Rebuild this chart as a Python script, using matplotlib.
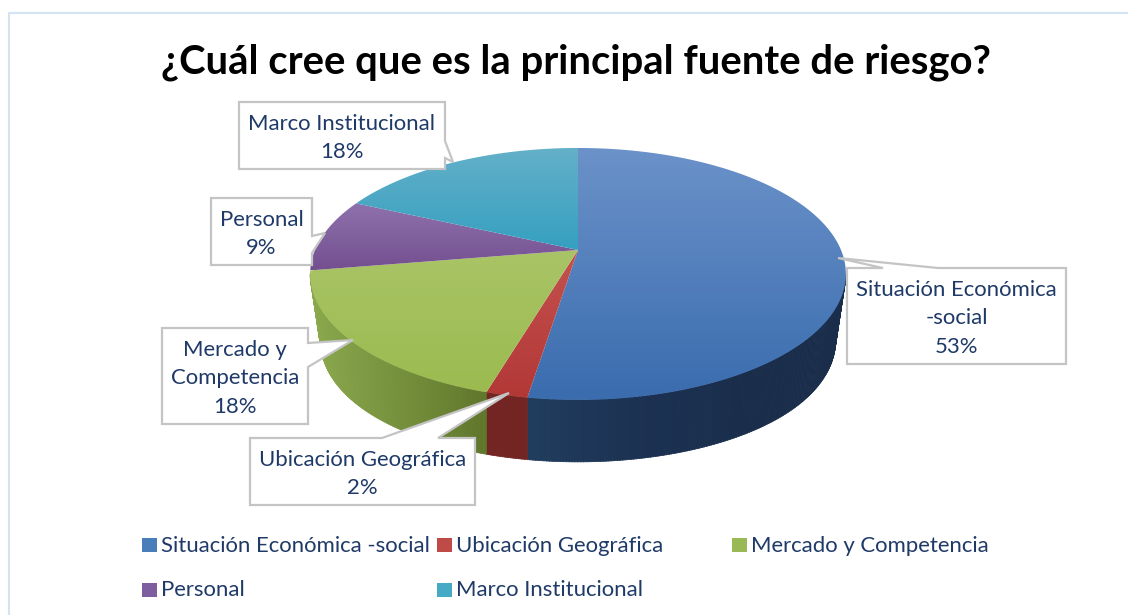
import numpy as np
import matplotlib
matplotlib.use('Agg')
from matplotlib import pyplot as plt
from matplotlib.colors import LinearSegmentedColormap
from matplotlib.patches import Polygon, Rectangle

plt.rcParams['font.family'] = ['Lato', 'DejaVu Sans']

title = '¿Cuál cree que es la principal fuente de riesgo?'
categories = ['Situación Económica -social', 'Ubicación Geográfica', 'Mercado y Competencia',
              'Personal', 'Marco Institucional']
values = [52.5, 2.1, 17.8, 9.4, 18.2]
percent_labels = ['53%', '2%', '18%', '9%', '18%']
callout_names = ['Situación Económica\n-social', 'Ubicación Geográfica', 'Mercado y\nCompetencia',
                 'Personal', 'Marco Institucional']

# top colours: light end, dark end of the vertical gradient
top_light = ['#6b92c9', '#c4524f', '#a9c466', '#8f72ad', '#64b0c9']
top_dark = ['#3a6cae', '#b23836', '#9bbb50', '#744f90', '#35a0c0']
# side colours, left to right along each slice
side_stops = [['#213d5e', '#1c3253', '#1a2e4c', '#1a2e4c'],
              ['#722522', '#722522'],
              ['#8aa84c', '#76913d', '#60772c'],
              ['#744f90', '#744f90'],
              ['#35a0c0', '#35a0c0']]
legend_colors = ['#4a7ebb', '#be4b48', '#98b954', '#7d5fa0', '#46aac5']

text_color = '#1f3a68'
box_color = '#c4c4c4'

fig = plt.figure(figsize=(11.28, 6.15), dpi=100)
ax = fig.add_axes([0, 0, 1, 1])

# pie geometry in pixels, with a small perspective so the apex sits above the ellipse centre
cx, cy = 578, 250
c, b, k = 263, -73.9, 0.19
depth = 62


def rim(t, drop=0, narrow=0.0):
    x = np.sin(t)
    y = np.cos(t)
    # the lower rim pulls in only near the sides, so seams in front stay vertical
    return cx + (1 - narrow * np.abs(x) ** 3) * c * x / (1 + k * y), (cy + b * y) / (1 + k * y) + drop


edges = np.radians(np.concatenate([[0], np.cumsum(values)]) * 3.6)

# side wall first, only the part of the rim that faces the viewer
for i in range(len(values)):
    rim_x = rim(np.linspace(edges[i], edges[i + 1], 200))[0]
    lo, hi = rim_x.min(), rim_x.max()
    cmap = LinearSegmentedColormap.from_list('s', side_stops[i])
    for t0 in np.arange(edges[i], edges[i + 1], np.radians(0.5)):
        t1 = min(t0 + np.radians(0.6), edges[i + 1])
        if np.cos((t0 + t1) / 2) > -k:
            continue
        x0, y0 = rim(t0)
        x1, y1 = rim(t1)
        x2, y2 = rim(t1, depth, 0.04)
        x3, y3 = rim(t0, depth, 0.04)
        col = cmap((x0 - lo) / max(hi - lo, 1))
        ax.add_patch(Polygon([(x0, y0), (x1, y1), (x2, y2), (x3, y3)], closed=True,
                             facecolor=col, edgecolor=col, linewidth=0.5, zorder=2))

# top surface, one clipped gradient per slice
for i in range(len(values)):
    ts = np.linspace(edges[i], edges[i + 1], 200)
    xs, ys = rim(ts)
    pts = [(cx, cy)] + list(zip(xs, ys))
    arr = np.array(pts)
    cmap = LinearSegmentedColormap.from_list('t', [top_light[i], top_dark[i]])
    grad = np.linspace(0, 1, 256).reshape(-1, 1)
    ext = (arr[:, 0].min(), arr[:, 0].max(), arr[:, 1].max(), arr[:, 1].min())
    im = ax.imshow(grad, cmap=cmap, extent=ext, aspect='auto', zorder=3, origin='upper')
    patch = Polygon(pts, closed=True, facecolor='none', edgecolor='none', zorder=3)
    ax.add_patch(patch)
    im.set_clip_path(patch)

ax.set_xlim(0, 1128)
ax.set_ylim(615, 0)
ax.axis('off')

# outer chart frame
ax.plot([9, 9, 1128], [615, 13, 13], color='#d5e4f5', lw=1.5, zorder=1)

ax.text(576, 62, title, ha='center', va='center', fontsize=28.8, fontweight='bold', color='black')

# callouts: box outline with its pointer, in the same order as categories
callout_outlines = [
    [(847, 268), (883, 268), (838, 258), (938, 268), (1066, 268), (1066, 364), (847, 364)],
    [(250, 438), (382, 438), (509, 393), (438, 438), (475, 438), (475, 505), (250, 505)],
    [(162, 328), (308, 328), (308, 343), (353, 340), (308, 367), (308, 424), (162, 424)],
    [(211, 198), (312, 198), (312, 236), (325, 233), (312, 253), (312, 265), (211, 265)],
    [(239, 102), (445, 102), (445, 141), (453, 162), (445, 158), (445, 169), (239, 169)],
]
for outline, name, pct in zip(callout_outlines, callout_names, percent_labels):
    ax.add_patch(Polygon(outline, closed=True, facecolor='white', edgecolor=box_color,
                         linewidth=1.6, zorder=5))
    x_mid = (outline[-1][0] + outline[-2][0]) / 2
    y_mid = (outline[0][1] + outline[-1][1]) / 2
    ax.text(x_mid, y_mid + 2.5, name + '\n' + pct, ha='center', va='center', fontsize=15.9,
            color=text_color, linespacing=1.55, zorder=6)

# legend
legend_pos = [(142, 545), (437, 545), (732, 545), (142, 590), (437, 590)]
for (lx, ly), name, col in zip(legend_pos, categories, legend_colors):
    ax.add_patch(Rectangle((lx, ly - 7), 15, 14, facecolor=col, edgecolor='none', zorder=4))
    ax.text(lx + 19, ly + 0.5, name, ha='left', va='center', fontsize=15.9, color=text_color, zorder=4)

fig.savefig('out.png', dpi=100)
